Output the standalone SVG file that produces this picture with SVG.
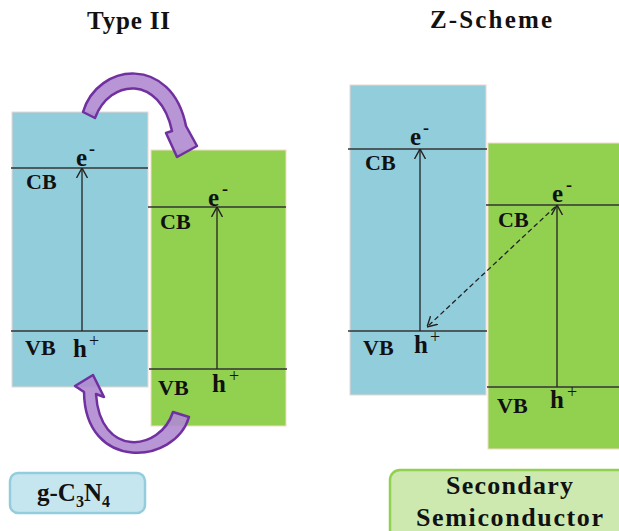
<svg xmlns="http://www.w3.org/2000/svg" width="619" height="531" viewBox="0 0 619 531">
<style>
.t{font-family:"Liberation Serif","Times New Roman",serif;font-weight:bold;fill:#111}
.lab{font-size:22px}
.car{font-size:25px}
.sup{font-size:18px}
.title{font-size:25px}
.band{fill:none;stroke:#333;stroke-width:1.4}
.va{fill:none;stroke:#222;stroke-width:1.3}
.blue{fill:#92cddc;stroke:#ecd6cf;stroke-width:1}
.green{fill:#92d050;stroke:#f2dcc8;stroke-width:1}
.curl{fill:#b08ad0;fill-opacity:0.9;stroke:#7030a0;stroke-width:2.5;stroke-linejoin:round}
</style>
<defs>
<marker id="open" viewBox="0 0 10 12" refX="10" refY="6" markerWidth="10" markerHeight="12" orient="auto" markerUnits="userSpaceOnUse">
<path d="M0,0.5 L10,6 L0,11.5" fill="none" stroke="#222" stroke-width="1.4"/>
</marker>
</defs>
<rect width="619" height="531" fill="#ffffff"/>

<text class="t title" x="128.5" y="29" text-anchor="middle" textLength="83">Type II</text>
<text class="t title" x="491" y="28" text-anchor="middle" textLength="122">Z-Scheme</text>

<g id="typeII-gC3N4">
<rect class="blue" x="12" y="112" width="136" height="275"/>
<line class="band" x1="11" y1="168" x2="148" y2="168"/>
<line class="band" x1="11" y1="331" x2="148" y2="331"/>
<text class="t lab" x="26" y="189">CB</text>
<text class="t lab" x="25" y="355">VB</text>
<text class="t car" x="76" y="166">e<tspan class="sup" x="89" y="155">-</tspan></text>
<text class="t car" x="73" y="357">h<tspan class="sup" font-weight="normal" x="89" y="347">+</tspan></text>
</g>

<g id="typeII-secondary">
<rect class="green" x="151" y="150" width="135" height="276"/>
<line class="band" x1="148" y1="207" x2="286" y2="207"/>
<line class="band" x1="149" y1="369" x2="287" y2="369"/>
<text class="t lab" x="160" y="229">CB</text>
<text class="t lab" x="158" y="395">VB</text>
<text class="t car" x="208" y="206">e<tspan class="sup" x="222" y="195">-</tspan></text>
<text class="t car" x="212" y="392">h<tspan class="sup" font-weight="normal" x="229" y="382">+</tspan></text>
</g>

<g id="zscheme-gC3N4">
<rect class="blue" x="350" y="85" width="136" height="310"/>
<line class="band" x1="348" y1="149" x2="487" y2="149"/>
<line class="band" x1="348" y1="331" x2="487" y2="331"/>
<text class="t lab" x="365" y="170">CB</text>
<text class="t lab" x="363" y="355">VB</text>
<text class="t car" x="410" y="145">e<tspan class="sup" x="423" y="134">-</tspan></text>
<text class="t car" x="414" y="353">h<tspan class="sup" font-weight="normal" x="430" y="343">+</tspan></text>
</g>

<g id="zscheme-secondary">
<rect class="green" x="488" y="143" width="133" height="306"/>
<line class="band" x1="486" y1="205" x2="619" y2="205"/>
<line class="band" x1="487" y1="387" x2="619" y2="387"/>
<text class="t lab" x="498" y="227">CB</text>
<text class="t lab" x="497" y="413">VB</text>
<text class="t car" x="552" y="202">e<tspan class="sup" x="566" y="191">-</tspan></text>
<text class="t car" x="550" y="408">h<tspan class="sup" font-weight="normal" x="567" y="398">+</tspan></text>
</g>

<g id="connectors">
<line class="va" x1="82" y1="331" x2="82" y2="168" marker-end="url(#open)"/>
<line class="va" x1="217" y1="369" x2="217" y2="207" marker-end="url(#open)"/>
<line class="va" x1="420" y1="331" x2="420" y2="149" marker-end="url(#open)"/>
<line class="va" x1="557" y1="387" x2="557" y2="205" marker-end="url(#open)"/>
<line class="va" x1="555" y1="207" x2="427" y2="327" stroke-width="2" stroke-dasharray="5,3" marker-end="url(#open)"/>
<path id="curl-top" class="curl" d="M83,112 C98,62 172,55 186,126 L197,146 L177,157 L166,133 L172,131 C160,75 110,78 95,118 Z"/>
<path id="curl-bottom" class="curl" d="M189,417 C175,465 85,472 84,392 L75,386 L93,375 L104,397 L96,394 C100,458 160,452 173,412 Z"/>
</g>

<g id="label-gC3N4">
<rect x="10" y="473" width="135" height="40" rx="8" fill="#c6e6ef" stroke="#93cddd" stroke-width="2.5"/>
<text class="t" font-size="25" x="37" y="501">g-C<tspan font-size="16" y="507">3</tspan><tspan y="501">N</tspan><tspan font-size="16" y="507">4</tspan></text>
</g>

<g id="label-secondary">
<rect x="390" y="470" width="245" height="80" rx="10" fill="#cde9b0" stroke="#92d050" stroke-width="2.5"/>
<text class="t" font-size="26" x="509.5" y="494" text-anchor="middle" textLength="127">Secondary</text>
<text class="t" font-size="26" x="509.5" y="526" text-anchor="middle" textLength="187">Semiconductor</text>
</g>
</svg>
